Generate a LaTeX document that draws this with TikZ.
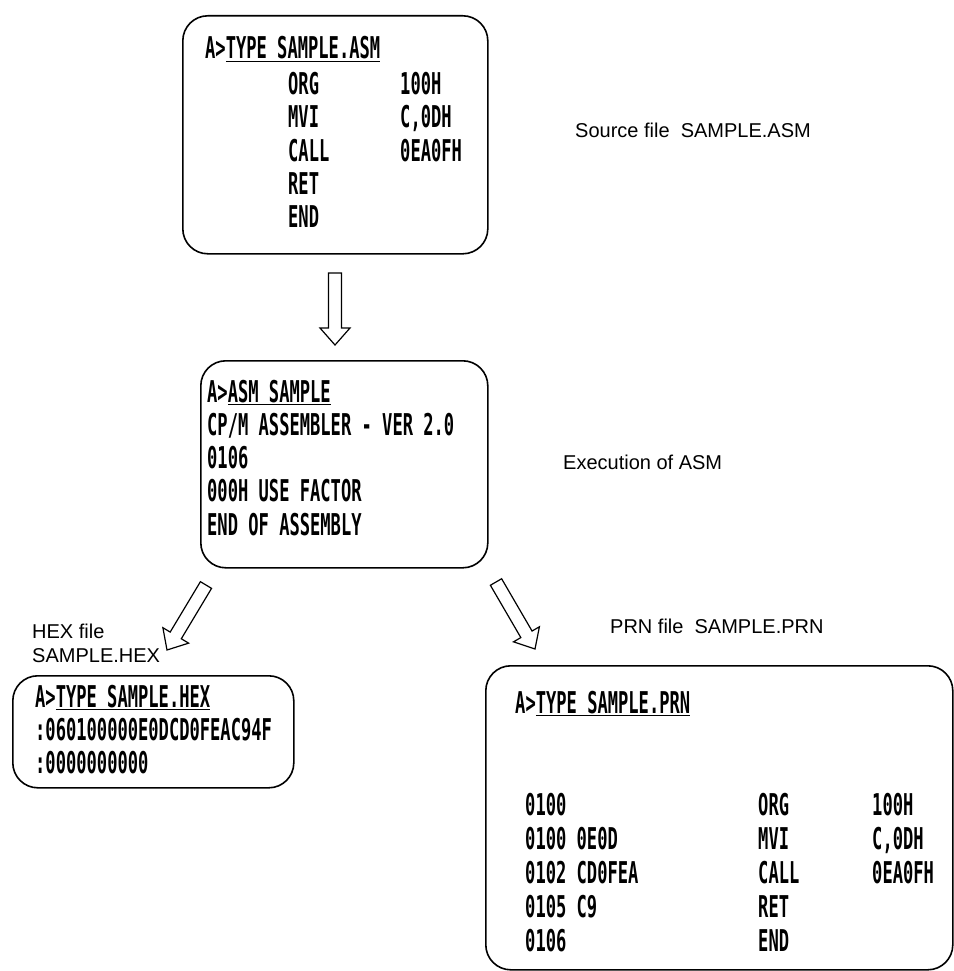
\documentclass[tikz,border=0pt]{standalone}
\usepackage{fontspec}
\setmainfont{Liberation Sans}
\newfontfamily\scrfont{DejaVu Sans Mono}[FakeStretch=0.57]
\usetikzlibrary{calc}
\newcommand\blockarrow[2]{%
  \coordinate (hh) at ($(#2)!17pt!(#1)$);
  \draw[arr] ($(#1)!6.5pt!90:(#2)$) -- ($(hh)!6.5pt!90:(#2)$) -- ($(hh)!15pt!90:(#2)$)
    -- (#2) -- ($(hh)!15pt!-90:(#2)$) -- ($(hh)!6.5pt!-90:(#2)$) -- ($(#1)!6.5pt!-90:(#2)$) -- cycle;}
\begin{document}
\begin{tikzpicture}[x=1pt,y=-1pt,
  scr/.style={font=\scrfont\bfseries\fontsize{30}{33}\selectfont, anchor=base west, inner sep=0pt},
  lbl/.style={font=\fontsize{20}{24}\selectfont, anchor=base west, inner sep=0pt},
  screen/.style={draw, line width=1.6pt, rounded corners=25pt, anchor=north west, inner sep=0pt},
  arr/.style={draw, line width=1.2pt, line join=miter}]
\useasboundingbox (0,0) rectangle (953,971);
% screens
\node[screen, minimum width=305pt, minimum height=238pt] (box1) at (182,15) {};
\node[screen, minimum width=287pt, minimum height=207pt] (box2) at (200,360) {};
\node[screen, minimum width=281pt, minimum height=112pt] (box3) at (12,675) {};
\node[screen, minimum width=467pt, minimum height=304pt] (box4) at (485,665) {};
% box 1
\node[scr] (t1) at (205,59) {A>\underline{TYPE SAMPLE.ASM}};
\node[scr] (t1a) at (288,95) {ORG};  \node[scr] (t1b) at (400,95) {100H};
\node[scr] (t1c) at (288,128) {MVI}; \node[scr] (t1d) at (400,128) {C,0DH};
\node[scr] (t1e) at (288,161) {CALL};\node[scr] (t1f) at (400,161) {0EA0FH};
\node[scr] (t1g) at (288,194) {RET};
\node[scr] (t1h) at (288,227) {END};
% box 2
\node[scr] (t2) at (207,402) {A>\underline{ASM SAMPLE}};
\node[scr] (t2a) at (207,435) {CP/M ASSEMBLER - VER 2.0};
\node[scr] (t2b) at (207,468) {0106};
\node[scr] (t2c) at (207,501) {000H USE FACTOR};
\node[scr] (t2d) at (207,535) {END OF ASSEMBLY};
% box 3
\node[scr] (t3) at (35,707) {A>\underline{TYPE SAMPLE.HEX}};
\node[scr] (t3a) at (35,740) {:060100000E0DCD0FEAC94F};
\node[scr] (t3b) at (35,773) {:0000000000};
% box 4
\node[scr] (t4) at (515,713) {A>\underline{TYPE SAMPLE.PRN}};
\node[scr] (r1a) at (525,815) {0100};        \node[scr] (r1b) at (758,815) {ORG};  \node[scr] (r1c) at (872,815) {100H};
\node[scr] (r2a) at (525,849) {0100 0E0D};   \node[scr] (r2b) at (758,849) {MVI};  \node[scr] (r2c) at (872,849) {C,0DH};
\node[scr] (r3a) at (525,883) {0102 CD0FEA}; \node[scr] (r3b) at (758,883) {CALL}; \node[scr] (r3c) at (872,883) {0EA0FH};
\node[scr] (r4a) at (525,917) {0105 C9};     \node[scr] (r4b) at (758,917) {RET};
\node[scr] (r5a) at (525,951) {0106};        \node[scr] (r5b) at (758,951) {END};
% labels
\node[lbl] (l1) at (575,137) {Source file\ \ SAMPLE.ASM};
\node[lbl] (l2) at (563,469) {Execution of ASM};
\node[lbl] (l3) at (32,638) {HEX file};
\node[lbl] (l3b) at (32,662) {SAMPLE.HEX};
\node[lbl] (l4) at (610,633) {PRN file\ \ SAMPLE.PRN};
% arrows
\coordinate (a1s) at (335,273); \coordinate (a1e) at (335,345);
\coordinate (a2s) at (206,585); \coordinate (a2e) at (167,650);
\coordinate (a3s) at (496,582); \coordinate (a3e) at (535,649);
\blockarrow{a1s}{a1e}
\blockarrow{a2s}{a2e}
\blockarrow{a3s}{a3e}
\end{tikzpicture}
\end{document}
